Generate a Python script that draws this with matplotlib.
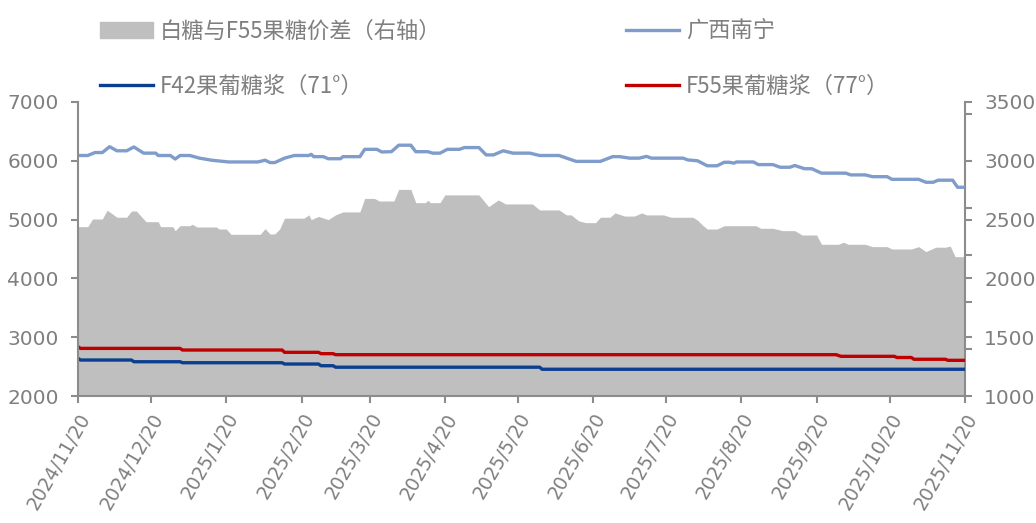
import matplotlib
matplotlib.use("Agg")
import matplotlib.pyplot as plt
import pandas as pd
from matplotlib.patches import Patch
from matplotlib.lines import Line2D

plt.rcParams['font.family'] = ['Noto Sans CJK SC', 'DejaVu Sans']

# 白糖与F55果糖价差（右轴）
spread_dates = ['2024-11-20', '2024-11-24', '2024-11-26', '2024-11-30', '2024-12-02', '2024-12-06',
                '2024-12-10', '2024-12-12', '2024-12-14', '2024-12-18', '2024-12-23', '2024-12-24',
                '2024-12-29', '2024-12-30', '2025-01-01', '2025-01-05', '2025-01-06', '2025-01-08',
                '2025-01-16', '2025-01-17', '2025-01-20', '2025-01-22', '2025-02-03', '2025-02-05',
                '2025-02-07', '2025-02-09', '2025-02-11', '2025-02-13', '2025-02-21', '2025-02-23',
                '2025-02-24', '2025-02-27', '2025-03-03', '2025-03-06', '2025-03-09', '2025-03-16',
                '2025-03-18', '2025-03-22', '2025-03-24', '2025-03-30', '2025-04-01', '2025-04-06',
                '2025-04-08', '2025-04-12', '2025-04-13', '2025-04-14', '2025-04-18', '2025-04-20',
                '2025-05-04', '2025-05-08', '2025-05-12', '2025-05-15', '2025-05-26', '2025-05-29',
                '2025-06-06', '2025-06-09', '2025-06-11', '2025-06-14', '2025-06-17', '2025-06-21',
                '2025-06-23', '2025-06-27', '2025-06-29', '2025-07-03', '2025-07-07', '2025-07-10',
                '2025-07-12', '2025-07-19', '2025-07-22', '2025-07-31', '2025-08-02', '2025-08-04',
                '2025-08-06', '2025-08-10', '2025-08-13', '2025-08-26', '2025-08-28', '2025-09-02',
                '2025-09-06', '2025-09-11', '2025-09-14', '2025-09-20', '2025-09-22', '2025-09-29',
                '2025-10-01', '2025-10-03', '2025-10-10', '2025-10-13', '2025-10-19', '2025-10-21',
                '2025-10-29', '2025-11-01', '2025-11-04', '2025-11-08', '2025-11-12', '2025-11-14',
                '2025-11-16', '2025-11-20']
spread_vals = [2440, 2440, 2505, 2505, 2580, 2520,
               2520, 2573, 2573, 2482, 2482, 2440,
               2440, 2406, 2448, 2448, 2460, 2437,
               2437, 2420, 2420, 2375, 2375, 2423,
               2378, 2378, 2420, 2512, 2512, 2540,
               2500, 2527, 2500, 2540, 2565, 2565,
               2680, 2680, 2658, 2658, 2757, 2757,
               2644, 2644, 2665, 2644, 2644, 2710,
               2710, 2610, 2667, 2633, 2633, 2582,
               2582, 2540, 2540, 2490, 2474, 2474,
               2520, 2520, 2557, 2530, 2530, 2557,
               2540, 2540, 2520, 2520, 2495, 2453,
               2420, 2420, 2448, 2448, 2426, 2426,
               2406, 2406, 2369, 2369, 2290, 2290,
               2308, 2290, 2290, 2270, 2270, 2250,
               2250, 2270, 2228, 2265, 2265, 2275,
               2185, 2185]

# 广西南宁
nanning_dates = ['2024-11-20', '2024-11-24', '2024-11-27', '2024-11-30', '2024-12-03', '2024-12-06',
                 '2024-12-10', '2024-12-13', '2024-12-17', '2024-12-22', '2024-12-23', '2024-12-28',
                 '2024-12-30', '2025-01-01', '2025-01-05', '2025-01-09', '2025-01-14', '2025-01-21',
                 '2025-02-02', '2025-02-05', '2025-02-07', '2025-02-09', '2025-02-13', '2025-02-17',
                 '2025-02-23', '2025-02-24', '2025-02-25', '2025-03-01', '2025-03-03', '2025-03-08',
                 '2025-03-09', '2025-03-16', '2025-03-18', '2025-03-23', '2025-03-25', '2025-03-29',
                 '2025-04-01', '2025-04-06', '2025-04-08', '2025-04-13', '2025-04-15', '2025-04-18',
                 '2025-04-21', '2025-04-26', '2025-04-28', '2025-05-04', '2025-05-07', '2025-05-10',
                 '2025-05-14', '2025-05-18', '2025-05-25', '2025-05-29', '2025-06-06', '2025-06-13',
                 '2025-06-23', '2025-06-28', '2025-07-01', '2025-07-05', '2025-07-09', '2025-07-12',
                 '2025-07-14', '2025-07-27', '2025-07-29', '2025-08-02', '2025-08-06', '2025-08-10',
                 '2025-08-13', '2025-08-15', '2025-08-17', '2025-08-18', '2025-08-25', '2025-08-27',
                 '2025-09-02', '2025-09-05', '2025-09-09', '2025-09-11', '2025-09-15', '2025-09-18',
                 '2025-09-22', '2025-10-02', '2025-10-04', '2025-10-10', '2025-10-13', '2025-10-19',
                 '2025-10-21', '2025-11-01', '2025-11-04', '2025-11-07', '2025-11-09', '2025-11-15',
                 '2025-11-17', '2025-11-20']
nanning_vals = [6090, 6090, 6140, 6140, 6240, 6170,
                6170, 6235, 6130, 6130, 6090, 6090,
                6030, 6090, 6090, 6045, 6010, 5980,
                5980, 6010, 5970, 5970, 6045, 6090,
                6090, 6110, 6070, 6070, 6035, 6035,
                6070, 6070, 6195, 6195, 6150, 6155,
                6265, 6265, 6155, 6155, 6130, 6130,
                6195, 6195, 6225, 6225, 6100, 6100,
                6170, 6130, 6130, 6090, 6090, 5990,
                5990, 6070, 6070, 6045, 6045, 6075,
                6045, 6045, 6015, 6000, 5915, 5915,
                5975, 5975, 5960, 5980, 5980, 5935,
                5935, 5890, 5890, 5920, 5865, 5865,
                5790, 5790, 5760, 5760, 5730, 5730,
                5685, 5685, 5635, 5635, 5670, 5670,
                5550, 5550]

# F42果葡糖浆（71°）
f42_dates = ['2024-11-20', '2024-11-21', '2024-12-12', '2024-12-13', '2025-01-01', '2025-01-02',
             '2025-02-12', '2025-02-13', '2025-02-27', '2025-02-28', '2025-03-05', '2025-03-06',
             '2025-05-29', '2025-05-30', '2025-11-20']
f42_vals = [2641, 2612, 2612, 2583, 2583, 2566,
            2566, 2544, 2544, 2515, 2515, 2490,
            2490, 2455, 2455]

# F55果葡糖浆（77°）
f55_dates = ['2024-11-20', '2024-11-21', '2025-01-01', '2025-01-02', '2025-02-12', '2025-02-13',
             '2025-02-27', '2025-02-28', '2025-03-05', '2025-03-06', '2025-09-28', '2025-09-30',
             '2025-10-22', '2025-10-23', '2025-10-29', '2025-10-30', '2025-11-12', '2025-11-13',
             '2025-11-20']
f55_vals = [2840, 2810, 2810, 2782, 2782, 2743,
            2743, 2720, 2720, 2703, 2703, 2675,
            2675, 2655, 2655, 2625, 2625, 2607,
            2607]

tick_dates = ['2024-11-20', '2024-12-20', '2025-01-20', '2025-02-20', '2025-03-20', '2025-04-20',
              '2025-05-20', '2025-06-20', '2025-07-20', '2025-08-20', '2025-09-20', '2025-10-20',
              '2025-11-20']

text_gray = '#7f7f7f'
axis_gray = '#8c8c8c'

fig = plt.figure(figsize=(10.36, 5.23), dpi=100)
ax = fig.add_axes([0.0753, 0.2428, 0.856, 0.5622])
ax2 = ax.twinx()

ax2.fill_between(pd.to_datetime(spread_dates), 1000, spread_vals, color='#bfbfbf', lw=0)
ax.plot(pd.to_datetime(nanning_dates), nanning_vals, color='#7f9ccb', lw=2.4)
ax.plot(pd.to_datetime(f42_dates), f42_vals, color='#0b3e8e', lw=2.4)
ax.plot(pd.to_datetime(f55_dates), f55_vals, color='#c00000', lw=2.4)

ax.set_zorder(ax2.get_zorder() + 1)
ax.patch.set_visible(False)

ax.set_ylim(2000, 7000)
ax2.set_ylim(1000, 3500)
ax.set_yticks(range(2000, 7001, 1000))
ax2.set_yticks(range(1000, 3501, 500))
ax2.set_yticks([1400, 1800, 2200, 2600, 3000, 3400], minor=True)

ticks = pd.to_datetime(tick_dates)
ax.set_xlim(ticks[0], ticks[-1])
ax.set_xticks(ticks)
ax.set_xticklabels([f"{d.year}/{d.month}/{d.day}" for d in ticks], rotation=60,
                   ha='right', va='top', rotation_mode='anchor', family='DejaVu Sans')

for a in (ax, ax2):
    a.spines['top'].set_visible(False)
    for s in ('left', 'right', 'bottom'):
        a.spines[s].set_color(axis_gray)
        a.spines[s].set_linewidth(1.5)
    a.tick_params(colors=axis_gray, labelcolor=text_gray, labelsize=14.5, width=1.5, length=5)
    a.tick_params(axis='y', pad=9)
    for lab in a.get_yticklabels():
        lab.set_family('DejaVu Sans')
ax2.tick_params(which='minor', colors=axis_gray, width=1.5, length=5)
ax.tick_params(axis='x', labelsize=13.5, pad=5)
ax.spines['right'].set_visible(False)
ax2.spines['left'].set_visible(False)
ax2.spines['bottom'].set_visible(False)

handles = [Patch(color='#bfbfbf'),
           Line2D([], [], color='#0b3e8e', lw=2.4),
           Line2D([], [], color='#7f9ccb', lw=2.4),
           Line2D([], [], color='#c00000', lw=2.4)]
labels = ['白糖与F55果糖价差（右轴）', 'F42果葡糖浆（71°）', '广西南宁', 'F55果葡糖浆（77°）']
fig.legend(handles, labels, ncol=2, loc='upper left', bbox_to_anchor=(0.077, 1.0),
           frameon=False, fontsize=16, labelcolor=text_gray, handlelength=2.4,
           handletextpad=0.3, columnspacing=8.3, labelspacing=1.45)

fig.savefig('out.png', dpi=100)
